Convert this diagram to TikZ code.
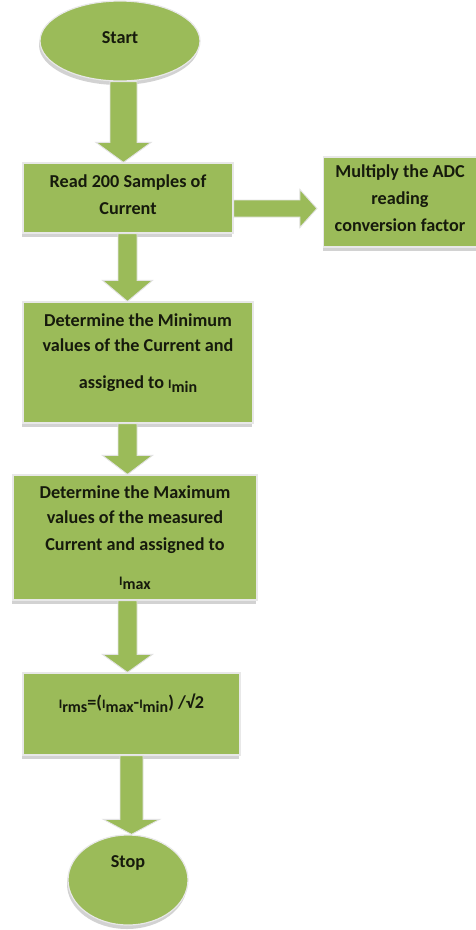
\documentclass[tikz,border=0pt]{standalone}
\usepackage{fontspec}
\setmainfont{Carlito}
\usetikzlibrary{calc,shadows,shapes.geometric}
\definecolor{fgreen}{HTML}{9BBB59}
\definecolor{txtc}{HTML}{161A0C}
\newcommand{\Isub}[1]{{\fontsize{13}{13}\selectfont I}\raisebox{-4pt}{\fontsize{16}{16}\selectfont #1}}
\newcommand{\vblock}[6]{%
  \filldraw[blockarr] let \p1=(#1 -| #3), \p2=(#2 -| #3) in
    (\x1-#4,\y1) -- (\x1+#4,\y1) -- (\x1+#4,\y2+#6) -- (\x1+#5,\y2+#6) -- (\x2,\y2)
    -- (\x1-#5,\y2+#6) -- (\x1-#4,\y2+#6) -- cycle;}
\begin{document}
\begin{tikzpicture}[x=1pt,y=-1pt,
  font=\fontsize{18.2}{25}\selectfont\bfseries,
  shade/.style={drop shadow={shadow xshift=-1pt,shadow yshift=-4pt,opacity=0.35,fill=gray}},
  box/.style={rectangle,fill=fgreen,draw=gray!18,line width=1.2pt,text=txtc,align=center,inner sep=0pt,shade},
  term/.style={ellipse,fill=fgreen,draw=gray!18,line width=1.2pt,text=txtc,align=center,inner sep=0pt,shade},
  blockarr/.style={fill=fgreen,draw=gray!22,line width=0.9pt,line join=miter}]
\useasboundingbox (0,0) rectangle (476,930);
\fill[white] (0,0) rectangle (476,930);

\node[term,minimum width=160pt,minimum height=80pt] (start) at (120,41) {Start\rule[-6pt]{0pt}{0pt}};
\node[box,minimum width=210pt,minimum height=70pt] (read) at (128,198) {Read 200 Samples of\\[2pt]Current\rule[-6pt]{0pt}{0pt}};
\node[box,minimum width=153pt,minimum height=90pt] (mult) at (400,202) {Multiply the ADC\\[2pt]reading\\[2pt]conversion factor\rule[-8pt]{0pt}{0pt}};
\node[box,minimum width=230pt,minimum height=121pt] (minb) at (138,362.5) {Determine the Minimum\\values of the Current and\\[12pt]assigned to \Isub{min}\rule[-22pt]{0pt}{0pt}};
\node[box,minimum width=244pt,minimum height=125pt] (maxb) at (135,537.5) {Determine the Maximum\\values of the measured\\[2pt]Current and assigned to\\[10pt]\Isub{max}};
\node[box,minimum width=217pt,minimum height=82pt] (rms) at (131.5,714) {\Isub{rms}=(\Isub{max}-\Isub{min}) /√2\rule[-26pt]{0pt}{0pt}};
\node[term,minimum width=120pt,minimum height=90pt] (stop) at (128,880) {Stop\rule[-36pt]{0pt}{0pt}};

\coordinate (a1) at (123.5,0);
\coordinate (a2) at (127.5,0);
\coordinate (a5) at (131.5,0);
\coordinate (ay) at (0,208.5);

\vblock{start.south}{read.north}{a1}{13.5pt}{27.5pt}{20pt}
\vblock{read.south}{minb.north}{a2}{9.5pt}{25pt}{21pt}
\vblock{minb.south}{maxb.north}{a2}{9.5pt}{25pt}{19pt}
\vblock{maxb.south}{rms.north}{a2}{9.5pt}{25pt}{18pt}
\vblock{rms.south}{stop.north}{a5}{11.5pt}{28pt}{15pt}
\filldraw[blockarr] let \p1=(read.east |- ay), \p2=(mult.west |- ay) in
  (\x1,\y1+8.5pt) -- (\x2-23pt,\y1+8.5pt) -- (\x2-23pt,\y1+19pt) -- (\x2-6pt,\y1)
  -- (\x2-23pt,\y1-19pt) -- (\x2-23pt,\y1-8.5pt) -- (\x1,\y1-8.5pt) -- cycle;
\end{tikzpicture}
\end{document}
